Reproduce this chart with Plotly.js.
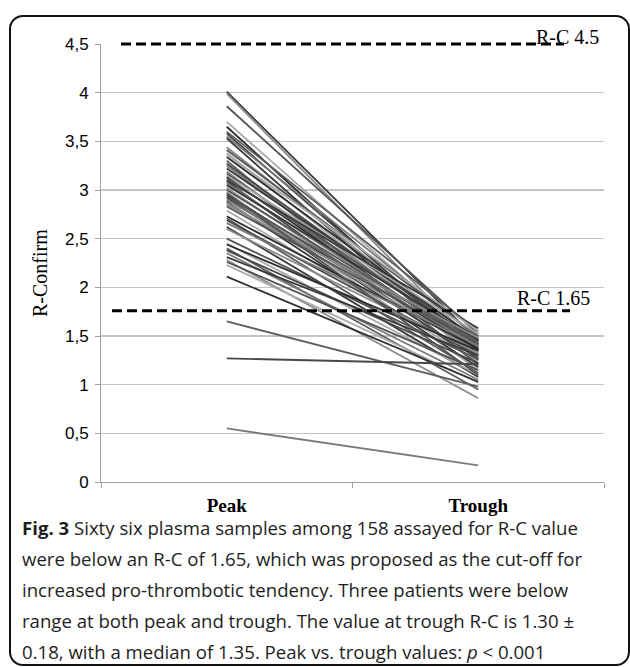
<!DOCTYPE html>
<html>
<head>
<meta charset="utf-8">
<script src="https://cdn.plot.ly/plotly-3.0.1.min.js"></script>
<style>
  html, body { margin:0; padding:0; background:#fff; overflow:hidden; }
  #wrap { position:relative; width:630px; height:667px; }
  #chart { position:absolute; left:0; top:0; width:630px; height:667px; }
  #frame { position:absolute; left:9px; top:15px; width:617px; height:647px; border:2px solid #111; border-radius:14px; pointer-events:none; }
  #caption { position:absolute; left:22px; top:512px; width:600px; font-family:"Open Sans", sans-serif; font-size:18.6px; line-height:31px; color:#1e1e1e; white-space:nowrap; }
</style>
</head>
<body>
<div id="wrap">
  <div id="chart"></div>
  <div id="frame"></div>
  <div id="caption"><b>Fig. 3</b> Sixty six plasma samples among 158 assayed for R-C value<br>were below an R-C of 1.65, which was proposed as the cut-off for<br>increased pro-thrombotic tendency. Three patients were below<br>range at both peak and trough. The value at trough R-C is 1.30 ±<br>0.18, with a median of 1.35. Peak vs. trough values: <i>p</i> &lt; 0.001</div>
</div>
<script>
const categories = ["Peak", "Trough"];
const peakValues = [4.01, 3.99, 3.86, 3.70, 3.65, 3.60, 3.58, 3.55, 3.53, 3.44, 3.41, 3.38, 3.34, 3.30, 3.27, 3.25, 3.22, 3.19, 3.17, 3.15, 3.13, 3.12, 3.09, 3.07, 3.05, 3.02, 3.00, 2.98, 2.95, 2.93, 2.92, 2.90, 2.88, 2.87, 2.83, 2.79, 2.73, 2.71, 2.69, 2.66, 2.62, 2.60, 2.50, 2.45, 2.44, 2.40, 2.38, 2.35, 2.31, 2.28, 2.26, 2.23, 2.11, 1.65, 1.27, 0.55, 3.10, 2.85, 2.97, 3.36];
const troughValues = [1.45, 1.38, 1.52, 1.42, 1.30, 1.55, 1.35, 1.48, 1.25, 1.40, 1.50, 1.33, 1.45, 1.20, 1.42, 1.37, 1.47, 1.28, 1.40, 1.52, 1.35, 1.44, 1.22, 1.38, 1.46, 1.31, 1.41, 1.15, 1.36, 1.43, 1.27, 1.39, 1.18, 1.34, 1.42, 1.24, 1.37, 1.12, 1.30, 1.40, 1.08, 1.32, 1.26, 1.10, 1.35, 0.95, 1.22, 1.05, 1.30, 0.86, 1.15, 1.02, 1.03, 0.98, 1.21, 0.17, 1.58, 1.48, 1.10, 1.55];
const yTickVals = [0, 0.5, 1, 1.5, 2, 2.5, 3, 3.5, 4, 4.5];
const yRange = [0, 4.5];
const refValues = [4.5, 1.76];
const refLabels = ["R-C 4.5", "R-C 1.65"];
const yTitle = "R-Confirm";

const grays = ["#3a3a3a", "#8a8a8a", "#555555", "#a8a8a8", "#2e2e2e", "#5e5e5e", "#484848", "#7a7a7a"];

const traces = peakValues.map((p, i) => ({
  type: "scatter",
  mode: "lines",
  x: categories,
  y: [p, troughValues[i]],
  line: { color: grays[i % grays.length], width: 1.8 },
  hoverinfo: "skip",
  showlegend: false
}));

const L = 101, R = 604, T = 44, B = 482;
const px = v => (v - L) / (R - L);
const py = v => (v - yRange[0]) / (yRange[1] - yRange[0]);

const layout = {
  width: 630, height: 667,
  margin: { l: L, r: 630 - R, t: T, b: 667 - B },
  paper_bgcolor: "rgba(0,0,0,0)",
  plot_bgcolor: "rgba(0,0,0,0)",
  separators: ", ",
  showlegend: false,
  xaxis: {
    type: "category",
    range: [-0.5, 1.5],
    tickson: "boundaries",
    ticks: "outside", ticklen: 5, tickcolor: "#a0a0a0",
    ticklabelstandoff: 6,
    showline: true, linecolor: "#a0a0a0", linewidth: 1,
    showgrid: false, zeroline: false,
    tickfont: { family: "Liberation Serif, serif", size: 19, color: "#000", weight: "bold" },
    fixedrange: true
  },
  yaxis: {
    range: yRange,
    tickvals: yTickVals,
    ticks: "outside", ticklen: 5, tickcolor: "#a0a0a0",
    ticklabelstandoff: 3,
    showline: true, linecolor: "#a0a0a0", linewidth: 1,
    showgrid: true, gridcolor: "#c4c4c4", gridwidth: 1.5,
    zeroline: false,
    tickfont: { family: "Liberation Sans, Arial, sans-serif", size: 17, color: "#000" },
    fixedrange: true
  },
  shapes: [
    { type: "line", xref: "paper", yref: "paper", x0: px(121), x1: px(564), y0: py(refValues[0]), y1: py(refValues[0]),
      line: { color: "#000", width: 3, dash: "10px,5px" } },
    { type: "line", xref: "paper", yref: "paper", x0: px(112), x1: px(570), y0: py(refValues[1]), y1: py(refValues[1]),
      line: { color: "#000", width: 3, dash: "10px,5px" } }
  ],
  annotations: [
    { xref: "paper", yref: "paper", x: px(40), y: (B - 273) / (B - T), text: yTitle, textangle: -90,
      showarrow: false, xanchor: "center", yanchor: "middle",
      font: { family: "Liberation Serif, serif", size: 20, color: "#000" } },
    { xref: "paper", yref: "paper", x: px(567), y: py(refValues[0]) + 7 / (B - T), text: refLabels[0],
      showarrow: false, xanchor: "center", yanchor: "middle",
      font: { family: "Liberation Serif, serif", size: 20, color: "#000" } },
    { xref: "paper", yref: "paper", x: px(553), y: py(refValues[1]) + 13 / (B - T), text: refLabels[1],
      showarrow: false, xanchor: "center", yanchor: "middle",
      font: { family: "Liberation Serif, serif", size: 20, color: "#000" } }
  ]
};

Plotly.newPlot("chart", traces, layout, { staticPlot: true, displayModeBar: false });
</script>
</body>
</html>
